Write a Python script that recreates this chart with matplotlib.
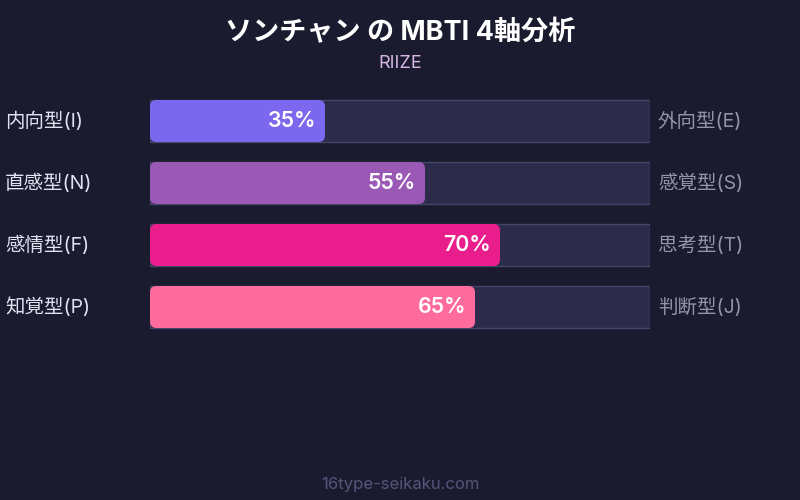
import matplotlib
matplotlib.use("Agg")
import matplotlib.pyplot as plt
from matplotlib.patches import FancyBboxPatch

title = "ソンチャン の MBTI 4軸分析"
subtitle = "RIIZE"
footer = "16type-seikaku.com"
left_labels = ["内向型(I)", "直感型(N)", "感情型(F)", "知覚型(P)"]
right_labels = ["外向型(E)", "感覚型(S)", "思考型(T)", "判断型(J)"]
values = [35, 55, 70, 65]
colors = ["#7b68ee", "#9b59b6", "#e91e8c", "#ff6b9d"]

FAM = ["Inter", "Noto Sans CJK JP", "DejaVu Sans"]
plt.rcParams["font.family"] = FAM

BG = "#1a1b2e"
fig = plt.figure(figsize=(8, 5), dpi=100, facecolor=BG)

ax = fig.add_axes([150 / 800, 1 - 338 / 500, 500 / 800, 248 / 500])
ax.set_facecolor(BG)
ax.set_xlim(0, 100)
ax.set_ylim(3.5, -0.5)
ax.axis("off")

ys = list(range(len(values)))
h = 42 / 62

ax.barh(ys, [100] * len(ys), height=h, color="#2c2b4a", edgecolor="#45456a", linewidth=1.0, zorder=1)

bars = ax.barh(ys, values, height=h, color="none", zorder=0)
aspect = (1 / 62) / (1 / 5)
for b, c in zip(bars, colors):
    p = FancyBboxPatch((b.get_x(), b.get_y()), b.get_width(), b.get_height(),
                       boxstyle="round,pad=0,rounding_size=1.3",
                       mutation_aspect=aspect, facecolor=c, edgecolor="none", zorder=2)
    ax.add_patch(p)
    ax.text(b.get_width() - 1.8, b.get_y() + b.get_height() / 2, f"{int(b.get_width())}%",
            ha="right", va="center", color="white", fontsize=15.3, fontweight="semibold", zorder=3)

for y, lab in zip(ys, left_labels):
    ax.text(-29, y, lab, ha="left", va="center", color="#e2e2f2", fontsize=14, clip_on=False)
for y, lab in zip(ys, right_labels):
    ax.text(101.6, y, lab, ha="left", va="center", color="#9494ab", fontsize=14, clip_on=False)

fig.text(0.5, 1 - 33 / 500, title, ha="center", va="center", color="white",
         fontsize=19.5, fontweight="bold")
fig.text(0.5, 1 - 64 / 500, subtitle, ha="center", va="center", color="#d9b8e6", fontsize=13)
fig.text(0.5, 1 - 484 / 500, footer, ha="center", va="center", color="#55557a", fontsize=12)

fig.savefig("out.png", dpi=100, facecolor=BG)
